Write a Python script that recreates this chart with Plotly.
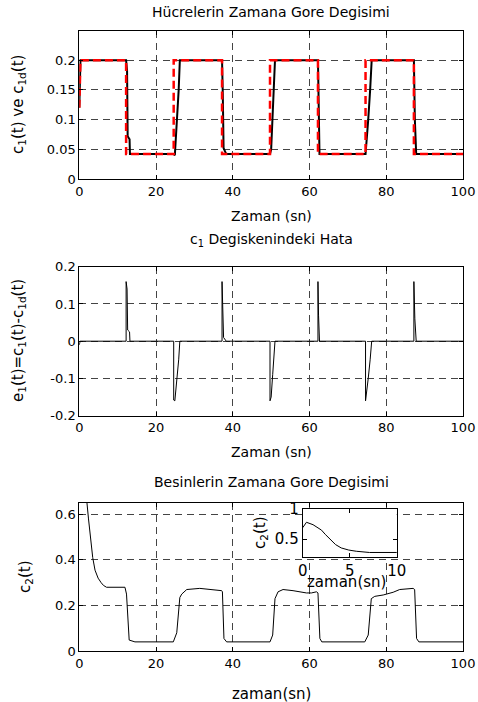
import plotly.graph_objects as go

W, H = 478, 702

# ---------------- data ----------------
# Panel 1: desired c1d(t) (red dashed) and actual c1(t) (black)
c1d_t = [0, 0.3, 12.2, 12.2, 24.6, 24.6, 37.2, 37.2, 49.7, 49.7, 62.2, 62.2, 74.6, 74.6, 87.2, 87.2, 100]
c1d_v = [0.12, 0.2, 0.2, 0.042, 0.042, 0.2, 0.2, 0.042, 0.042, 0.2, 0.2, 0.042, 0.042, 0.2, 0.2, 0.042, 0.042]

c1_t = [0, 0.3, 12.2, 12.45, 12.6, 13.1, 13.2, 24.6, 24.9, 25.2, 25.5, 25.9, 26.2,
        37.2, 37.4, 37.6, 38.3, 49.7, 50.0, 50.4, 50.8, 51.0, 62.2, 62.35, 62.6,
        74.6, 75.0, 75.3, 75.8, 76.2, 87.2, 87.45, 87.8, 100]
c1_v = [0.12, 0.2, 0.2, 0.182, 0.072, 0.067, 0.042, 0.042, 0.04, 0.07, 0.1, 0.15, 0.2,
        0.2, 0.142, 0.052, 0.042, 0.042, 0.05, 0.11, 0.17, 0.2, 0.2, 0.112, 0.042,
        0.042, 0.07, 0.1, 0.15, 0.2, 0.2, 0.1, 0.042, 0.042]

# Panel 2: error e1(t)
e1_t = [0, 0.2, 12.2, 12.2, 12.45, 12.6, 13.1, 13.2, 24.6, 24.6, 24.9, 25.2, 25.5, 25.9, 26.2,
        37.2, 37.2, 37.4, 37.6, 38.3, 49.7, 49.7, 50.0, 50.4, 50.8, 51.0, 62.2, 62.2, 62.35, 62.6,
        74.6, 74.6, 75.0, 75.3, 75.8, 76.2, 87.2, 87.2, 87.45, 87.8, 100]
e1_v = [-0.01, 0, 0, 0.16, 0.14, 0.03, 0.025, 0, 0, -0.158, -0.16, -0.13, -0.1, -0.05, 0,
        0, 0.16, 0.1, 0.01, 0, 0, -0.16, -0.15, -0.09, -0.03, 0, 0, 0.16, 0.07, 0,
        0, -0.16, -0.13, -0.1, -0.05, 0, 0, 0.16, 0.06, 0, 0]

# Panel 3: nutrient c2(t)
c2_t = [0, 0.4, 1.1, 2.0, 2.4, 2.9, 3.5, 4.1, 4.9, 5.7, 6.3, 7.1, 11.9, 12.3, 12.5, 12.76, 13.0,
        14.5, 24.5, 25.4, 25.8, 26.2, 26.7, 28.0, 31.4, 34.9, 37.1, 37.3, 37.7, 38.4, 49.7, 50.4,
        51.0, 51.8, 53.1, 55.7, 59.2, 60.5, 61.8, 62.2, 62.7, 63.2, 74.4, 75.3, 76.1, 77.0, 79.2,
        81.8, 83.5, 87.0, 87.4, 87.9, 88.5, 100]
c2_v = [0.69, 0.78, 0.74, 0.65, 0.58, 0.51, 0.41, 0.355, 0.32, 0.30, 0.288, 0.28, 0.28, 0.25, 0.18,
        0.09, 0.048, 0.04, 0.04, 0.08, 0.18, 0.235, 0.25, 0.27, 0.275, 0.27, 0.265, 0.26, 0.055,
        0.04, 0.04, 0.07, 0.23, 0.26, 0.27, 0.265, 0.255, 0.255, 0.26, 0.255, 0.055, 0.04, 0.04,
        0.07, 0.23, 0.24, 0.246, 0.258, 0.27, 0.275, 0.27, 0.055, 0.04, 0.04]

# tick labels
x_ticks = [0, 20, 40, 60, 80, 100]
x_ticktext = ["0", "20", "40", "60", "80", "100"]
y1_ticks = [0, 0.05, 0.1, 0.15, 0.2]
y1_ticktext = ["0", "0.05", "0.1", "0.15", "0.2"]
y2_ticks = [-0.2, -0.1, 0, 0.1, 0.2]
y2_ticktext = ["-0.2", "-0.1", "0", "0.1", "0.2"]
y3_ticks = [0, 0.2, 0.4, 0.6]
y3_ticktext = ["0", "0.2", "0.4", "0.6"]
xin_ticks = [0, 5, 10]
xin_ticktext = ["0", "5", "10"]
yin_ticks = [0.5, 1]
yin_ticktext = ["0.5", "1"]

# ---------------- layout helpers ----------------
FONT = "DejaVu Sans"


def px_x(p):
    return p / W


def px_y(p):
    return 1 - p / H


X_DOM = [px_x(79.3), px_x(463)]


def axis_common(tickvals, ticktext, rng, domain, grid=True, size=13):
    return dict(
        domain=domain, range=rng, tickmode="array", tickvals=tickvals, ticktext=ticktext,
        showline=True, linecolor="black", linewidth=1, mirror="ticks",
        ticks="inside", ticklen=4, tickcolor="black", tickwidth=1,
        showgrid=grid, gridcolor="#444444", gridwidth=1, griddash="7px,5px",
        zeroline=False, tickfont=dict(family=FONT, size=size, color="black"),
        fixedrange=True, automargin=False,
    )


fig = go.Figure()

# Panel 1
fig.add_trace(go.Scatter(x=c1_t, y=c1_v, mode="lines", line=dict(color="black", width=2),
                         xaxis="x", yaxis="y", showlegend=False))
fig.add_trace(go.Scatter(x=c1d_t, y=c1d_v, mode="lines",
                         line=dict(color="#ff0000", width=2.5, dash="8px,4px"),
                         xaxis="x", yaxis="y", showlegend=False))
# Panel 2
fig.add_trace(go.Scatter(x=e1_t, y=e1_v, mode="lines", line=dict(color="black", width=1),
                         xaxis="x2", yaxis="y2", showlegend=False))
# Panel 3
fig.add_trace(go.Scatter(x=c2_t, y=c2_v, mode="lines", line=dict(color="black", width=1),
                         xaxis="x3", yaxis="y3", showlegend=False))
# Inset
fig.add_trace(go.Scatter(x=c2_t, y=c2_v, mode="lines", line=dict(color="black", width=1),
                         xaxis="x4", yaxis="y4", showlegend=False))

fig.update_layout(
    width=W, height=H, autosize=False,
    margin=dict(l=0, r=0, t=0, b=0, pad=0, autoexpand=False),
    paper_bgcolor="white", plot_bgcolor="white",
    font=dict(family=FONT, size=13, color="black"),
    xaxis=axis_common(x_ticks, x_ticktext, [0, 100], X_DOM),
    yaxis=axis_common(y1_ticks, y1_ticktext, [0, 0.25], [px_y(179), px_y(30.5)]),
    xaxis2=axis_common(x_ticks, x_ticktext, [0, 100], X_DOM),
    yaxis2=axis_common(y2_ticks, y2_ticktext, [-0.2, 0.2], [px_y(415.7), px_y(266.7)]),
    xaxis3=axis_common(x_ticks, x_ticktext, [0, 100], X_DOM),
    yaxis3=axis_common(y3_ticks, y3_ticktext, [0, 0.65], [px_y(651), px_y(503)]),
    xaxis4=axis_common(xin_ticks, xin_ticktext, [0, 10], [px_x(302.7), px_x(396.7)], grid=False, size=15),
    yaxis4=axis_common(yin_ticks, yin_ticktext, [0.2, 1], [px_y(557.3), px_y(509)], grid=False, size=15),
)
fig.layout.xaxis.anchor = "y"
fig.layout.yaxis.anchor = "x"
fig.layout.xaxis2.anchor = "y2"
fig.layout.yaxis2.anchor = "x2"
fig.layout.xaxis3.anchor = "y3"
fig.layout.yaxis3.anchor = "x3"
fig.layout.xaxis4.anchor = "y4"
fig.layout.yaxis4.anchor = "x4"


def label(text, x, y, size=14, angle=0):
    fig.add_annotation(text=text, x=px_x(x), y=px_y(y), xref="paper", yref="paper",
                       xanchor="center", yanchor="middle", showarrow=False, textangle=angle,
                       font=dict(family=FONT, size=size, color="black"))


# titles
label("Hücrelerin Zamana Gore Degisimi", 271, 12)
label("c<sub>1</sub> Degiskenindeki Hata", 271, 240)
label("Besinlerin Zamana Gore Degisimi", 271, 482)
# x labels
label("Zaman (sn)", 271, 216)
label("Zaman (sn)", 271, 452)
label("zaman(sn)", 271, 694, size=15)
label("zaman(sn)", 346, 582, size=15)
# y labels
label("c<sub>1</sub>(t) ve c<sub>1d</sub>(t)", 18, 105, size=15, angle=-90)
label("e<sub>1</sub>(t)=c<sub>1</sub>(t)-c<sub>1d</sub>(t)", 18, 341, size=15, angle=-90)
label("c<sub>2</sub>(t)", 25, 577, size=15, angle=-90)
label("c<sub>2</sub>(t)", 260, 533, size=15, angle=-90)

fig.write_html(
    "out.html",
    config={"displayModeBar": False},
    post_script="document.body.style.margin='0';document.body.style.padding='0';"
                "document.body.style.overflow='hidden';",
)
